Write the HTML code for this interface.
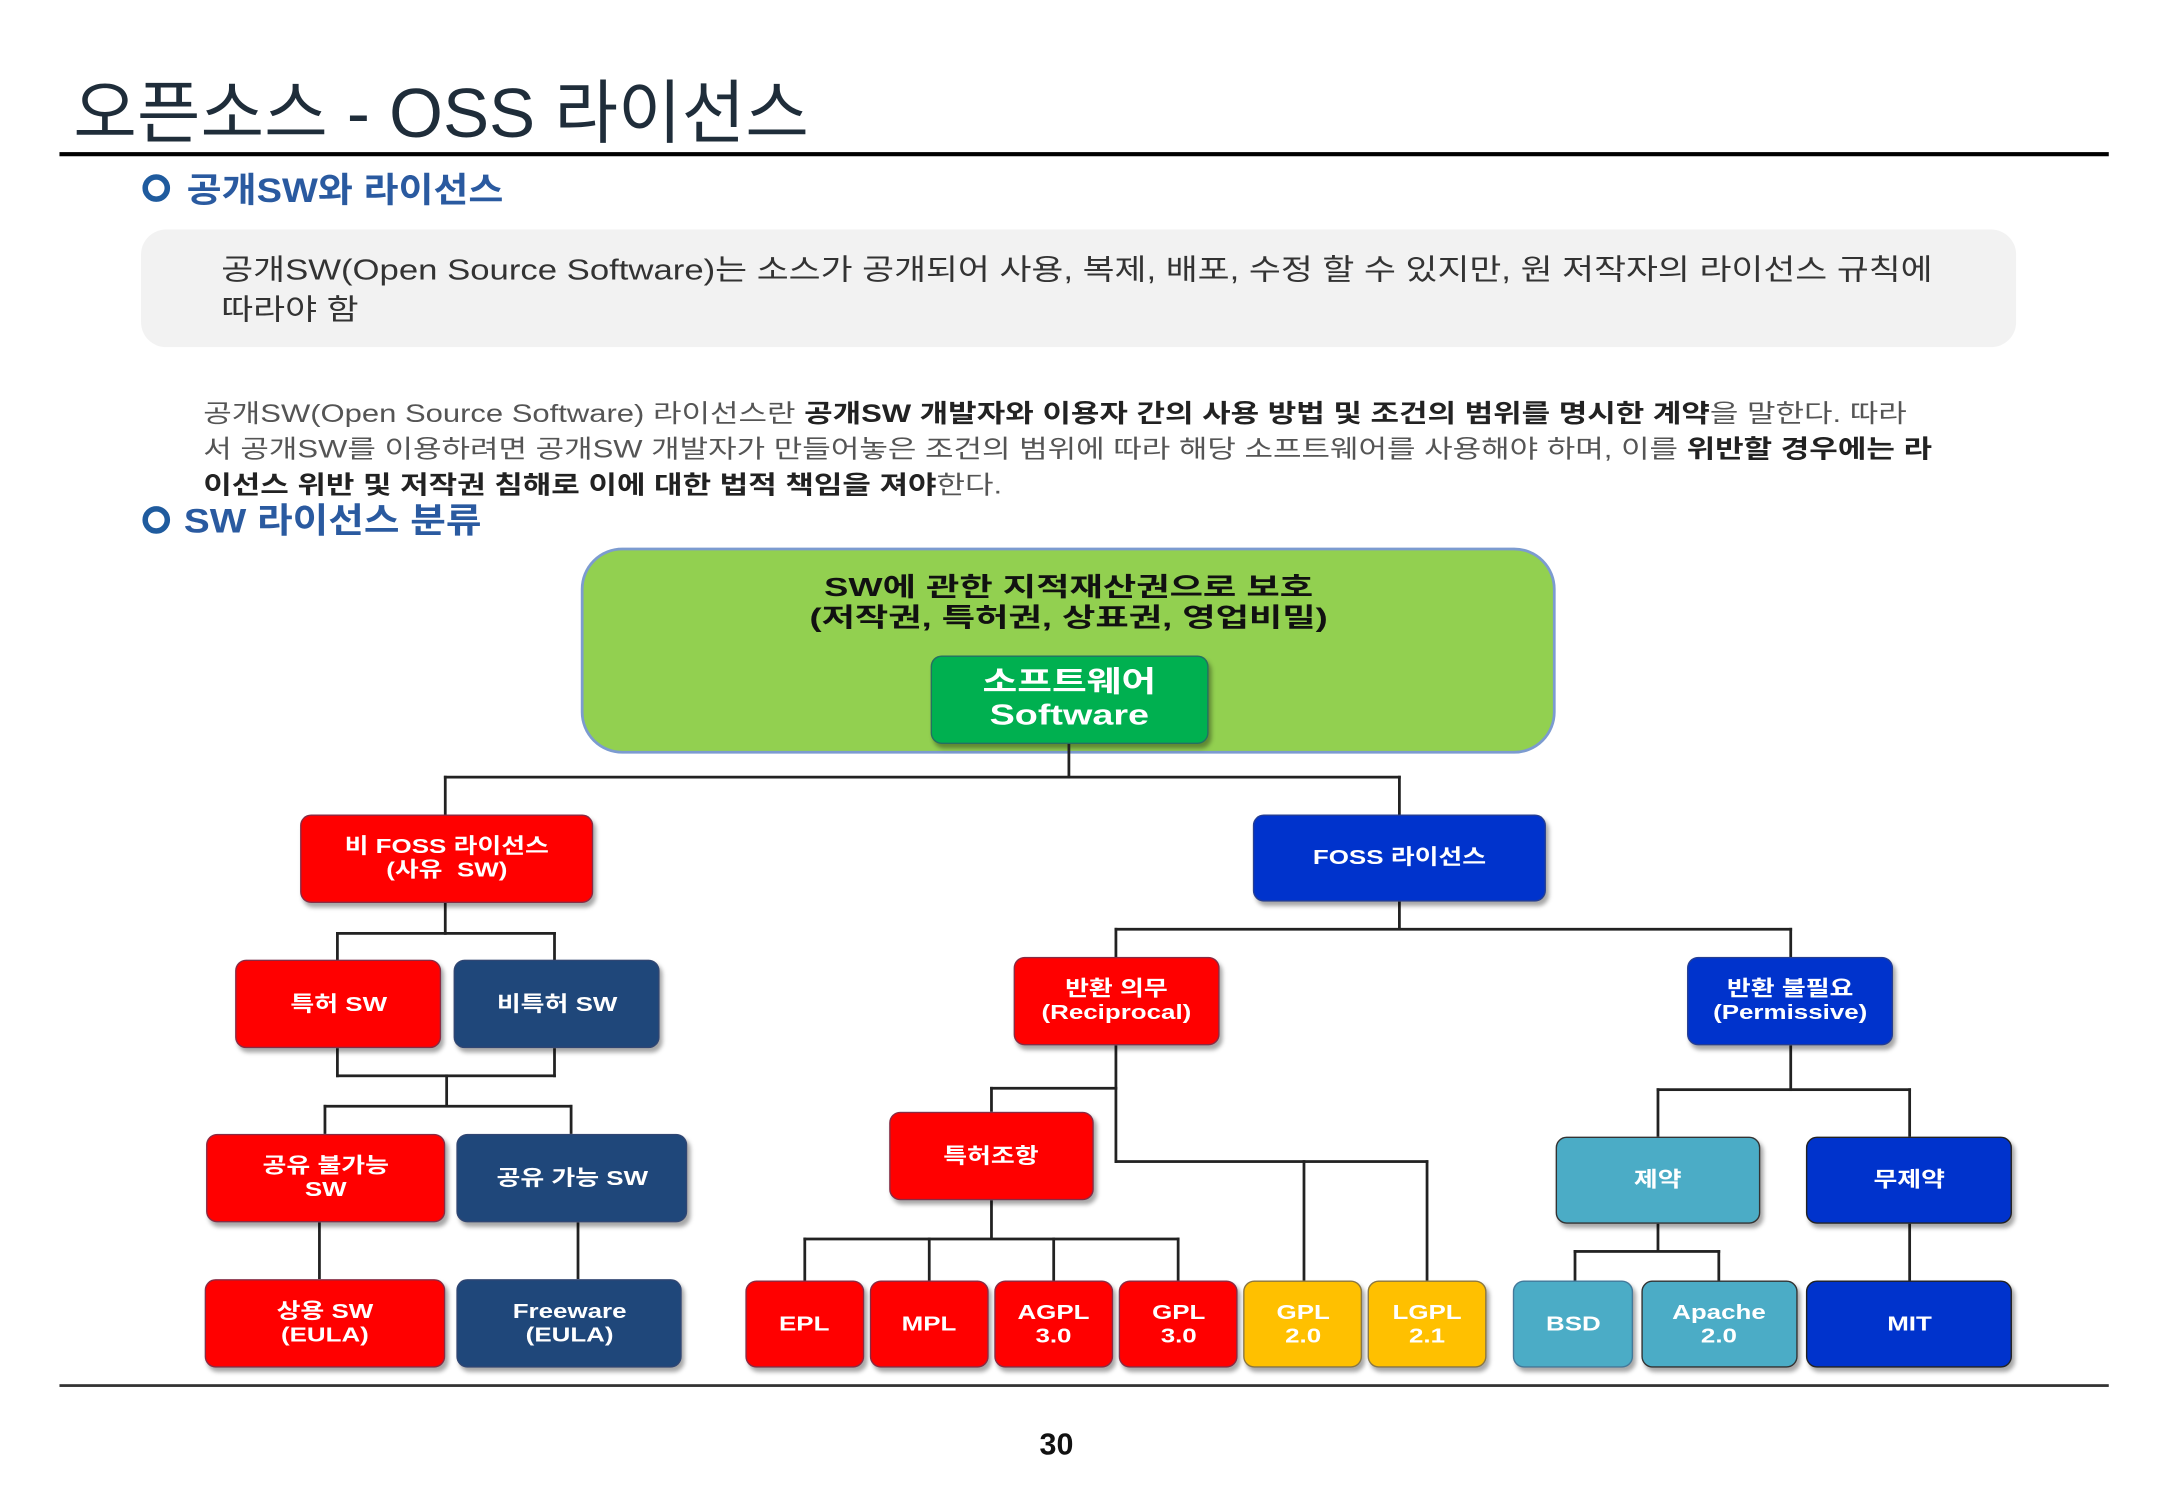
<!DOCTYPE html>
<html><head><meta charset="utf-8"><style>
html,body{margin:0;padding:0;background:#fff;}
body{width:2167px;height:1500px;overflow:hidden;position:relative;}
#c{position:absolute;left:0;top:0;width:1560px;height:1080px;transform:scale(1.3828);transform-origin:0 0;font-family:"Liberation Sans","Noto Sans CJK KR",sans-serif;}
.a{position:absolute;}
.t{position:absolute;white-space:nowrap;transform-origin:0 0;}
.b{position:absolute;border-radius:8px;color:#fff;font-weight:bold;font-size:15px;display:flex;align-items:center;justify-content:center;text-align:center;line-height:17px;box-shadow:2px 3px 3px rgba(0,0,0,0.35);border:1.5px solid rgba(60,70,110,0.6);box-sizing:border-box;}
.b span{display:inline-block;transform:scaleX(1.25);white-space:nowrap;}
.r{background:#ff0000;}
.d{background:#1f477a;}
.u{background:#0033cc;}
.y{background:#ffc000;}
.c{background:#4bacc6;border-color:#333;}
.l{position:absolute;background:#222;}
</style></head><body><div id="c">
<div class="t" style="left:53px;top:42px;font-size:50px;color:#1f2d3a;">오픈소스 - OSS 라이선스</div>
<div class="a" style="left:43px;top:110px;width:1482px;height:3px;background:#000;"></div>
<div class="a" style="left:103px;top:126px;width:12px;height:12px;border:4px solid #1f5b9e;border-radius:50%;"></div>
<div class="t" style="left:135px;top:118px;font-size:25px;color:#2a5aa0;font-weight:bold;transform:scaleX(1.1);">공개SW와 라이선스</div>
<div class="a" style="left:102px;top:166px;width:1356px;height:85px;background:#f2f2f2;border-radius:18px;"></div>
<div class="t" style="left:160px;top:181px;font-size:21px;color:#333;line-height:29px;transform:scaleX(1.195);">공개SW(Open Source Software)는 소스가 공개되어 사용, 복제, 배포, 수정 할 수 있지만, 원 저작자의 라이선스 규칙에<br>따라야 함</div>
<div class="t" style="left:147px;top:286px;font-size:18px;color:#555;line-height:26px;transform:scaleX(1.245);">공개SW(Open Source Software) 라이선스란 <b style="color:#222">공개SW 개발자와 이용자 간의 사용 방법 및 조건의 범위를 명시한 계약</b>을 말한다. 따라<br>서 공개SW를 이용하려면 공개SW 개발자가 만들어놓은 조건의 범위에 따라 해당 소프트웨어를 사용해야 하며, 이를 <b style="color:#222">위반할 경우에는 라</b><br><b style="color:#222">이선스 위반 및 저작권 침해로 이에 대한 법적 책임을 져야</b>한다.</div>
<div class="a" style="left:103px;top:366px;width:12px;height:12px;border:4px solid #1f5b9e;border-radius:50%;"></div>
<div class="t" style="left:133px;top:357px;font-size:25px;color:#2a5aa0;font-weight:bold;transform:scaleX(1.12);">SW 라이선스 분류</div>

<div class="a" style="left:420px;top:396px;width:705px;height:149px;background:#92d050;border:2px solid #7c9bd0;border-radius:30px;box-sizing:border-box;"></div>
<div class="a" style="left:420px;width:705px;top:415px;text-align:center;font-weight:bold;font-size:19px;line-height:22px;color:#111;"><span style="display:inline-block;transform:scaleX(1.38);white-space:nowrap;">SW에 관한 지적재산권으로 보호<br>(저작권, 특허권, 상표권, 영업비밀)</span></div>
<div class="b" style="left:673px;top:474px;width:201px;height:64px;background:#00b050;font-size:21px;line-height:24px;"><span style="transform:scaleX(1.3);">소프트웨어<br>Software</span></div>

<!-- lines -->
<div class="l" style="left:772px;top:538px;width:2px;height:25px;"></div>
<div class="l" style="left:321px;top:561px;width:692px;height:2px;"></div>
<div class="l" style="left:321px;top:561px;width:2px;height:29px;"></div>
<div class="l" style="left:1011px;top:561px;width:2px;height:29px;"></div>
<div class="l" style="left:321px;top:653px;width:2px;height:23px;"></div>
<div class="l" style="left:243px;top:674px;width:159px;height:2px;"></div>
<div class="l" style="left:243px;top:674px;width:2px;height:21px;"></div>
<div class="l" style="left:400px;top:674px;width:2px;height:21px;"></div>
<div class="l" style="left:243px;top:758px;width:2px;height:21px;"></div>
<div class="l" style="left:400px;top:758px;width:2px;height:21px;"></div>
<div class="l" style="left:243px;top:777px;width:159px;height:2px;"></div>
<div class="l" style="left:322px;top:777px;width:2px;height:23px;"></div>
<div class="l" style="left:234px;top:799px;width:180px;height:2px;"></div>
<div class="l" style="left:234px;top:799px;width:2px;height:21px;"></div>
<div class="l" style="left:412px;top:799px;width:2px;height:21px;"></div>
<div class="l" style="left:230px;top:884px;width:2px;height:41px;"></div>
<div class="l" style="left:417px;top:884px;width:2px;height:41px;"></div>

<div class="l" style="left:1011px;top:652px;width:2px;height:20px;"></div>
<div class="l" style="left:806px;top:671px;width:490px;height:2px;"></div>
<div class="l" style="left:806px;top:671px;width:2px;height:22px;"></div>
<div class="l" style="left:1294px;top:671px;width:2px;height:22px;"></div>
<div class="l" style="left:806px;top:756px;width:2px;height:85px;"></div>
<div class="l" style="left:716px;top:786px;width:92px;height:2px;"></div>
<div class="l" style="left:716px;top:786px;width:2px;height:18px;"></div>
<div class="l" style="left:806px;top:839px;width:227px;height:2px;"></div>
<div class="l" style="left:942px;top:839px;width:2px;height:87px;"></div>
<div class="l" style="left:1031px;top:839px;width:2px;height:87px;"></div>
<div class="l" style="left:716px;top:868px;width:2px;height:28px;"></div>
<div class="l" style="left:581px;top:895px;width:272px;height:2px;"></div>
<div class="l" style="left:581px;top:895px;width:2px;height:31px;"></div>
<div class="l" style="left:671px;top:895px;width:2px;height:31px;"></div>
<div class="l" style="left:761px;top:895px;width:2px;height:31px;"></div>
<div class="l" style="left:851px;top:895px;width:2px;height:31px;"></div>
<div class="l" style="left:1294px;top:756px;width:2px;height:33px;"></div>
<div class="l" style="left:1198px;top:787px;width:184px;height:2px;"></div>
<div class="l" style="left:1198px;top:787px;width:2px;height:35px;"></div>
<div class="l" style="left:1380px;top:787px;width:2px;height:35px;"></div>
<div class="l" style="left:1198px;top:885px;width:2px;height:20px;"></div>
<div class="l" style="left:1138px;top:904px;width:106px;height:2px;"></div>
<div class="l" style="left:1138px;top:904px;width:2px;height:22px;"></div>
<div class="l" style="left:1242px;top:904px;width:2px;height:22px;"></div>
<div class="l" style="left:1380px;top:885px;width:2px;height:41px;"></div>

<!-- boxes -->
<div class="b r" style="left:217px;top:589px;width:212px;height:64px;"><span>비 FOSS 라이선스<br>(사유&nbsp; SW)</span></div>
<div class="b u" style="left:906px;top:589px;width:212px;height:63px;"><span>FOSS 라이선스</span></div>
<div class="b r" style="left:170px;top:694px;width:149px;height:64px;"><span>특허 SW</span></div>
<div class="b d" style="left:328px;top:694px;width:149px;height:64px;"><span>비특허 SW</span></div>
<div class="b r" style="left:149px;top:820px;width:173px;height:64px;"><span>공유 불가능<br>SW</span></div>
<div class="b d" style="left:330px;top:820px;width:167px;height:64px;"><span>공유 가능 SW</span></div>
<div class="b r" style="left:148px;top:925px;width:174px;height:64px;"><span>상용 SW<br>(EULA)</span></div>
<div class="b d" style="left:330px;top:925px;width:163px;height:64px;"><span>Freeware<br>(EULA)</span></div>
<div class="b r" style="left:733px;top:692px;width:149px;height:64px;"><span>반환 의무<br>(Reciprocal)</span></div>
<div class="b u" style="left:1220px;top:692px;width:149px;height:64px;"><span>반환 불필요<br>(Permissive)</span></div>
<div class="b r" style="left:643px;top:804px;width:148px;height:64px;"><span>특허조항</span></div>
<div class="b r" style="left:539px;top:926px;width:86px;height:63px;"><span>EPL</span></div>
<div class="b r" style="left:629px;top:926px;width:86px;height:63px;"><span>MPL</span></div>
<div class="b r" style="left:719px;top:926px;width:86px;height:63px;"><span>AGPL<br>3.0</span></div>
<div class="b r" style="left:809px;top:926px;width:86px;height:63px;"><span>GPL<br>3.0</span></div>
<div class="b y" style="left:899px;top:926px;width:86px;height:63px;"><span>GPL<br>2.0</span></div>
<div class="b y" style="left:989px;top:926px;width:86px;height:63px;"><span>LGPL<br>2.1</span></div>
<div class="b c" style="left:1125px;top:822px;width:148px;height:63px;"><span>제약</span></div>
<div class="b u" style="left:1306px;top:822px;width:149px;height:63px;border-color:#222;"><span>무제약</span></div>
<div class="b c" style="left:1094px;top:926px;width:87px;height:63px;border-color:rgba(60,70,110,0.5);"><span>BSD</span></div>
<div class="b c" style="left:1187px;top:926px;width:113px;height:63px;"><span>Apache<br>2.0</span></div>
<div class="b u" style="left:1306px;top:926px;width:149px;height:63px;border-color:#222;"><span>MIT</span></div>

<div class="a" style="left:43px;top:1001px;width:1482px;height:1.5px;background:#333;"></div>
<div class="a" style="left:724px;width:80px;top:1032px;text-align:center;font-weight:bold;font-size:22px;color:#111;">30</div>
</div></body></html>
